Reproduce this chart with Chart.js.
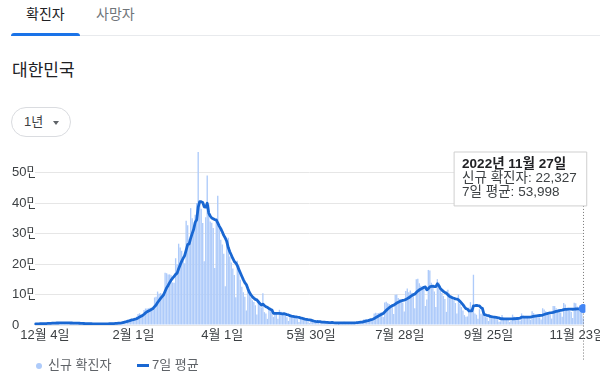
<!DOCTYPE html>
<html><head><meta charset="utf-8">
<script src="https://cdn.jsdelivr.net/npm/chart.js@4.4.0/dist/chart.umd.min.js"></script>
<style>
html,body{margin:0;padding:0;background:#fff;width:613px;height:389px;overflow:hidden;font-family:"Liberation Sans","Noto Sans CJK KR",Arial,sans-serif;}
.abs{position:absolute;white-space:nowrap;}
#tab1{left:26px;top:4px;font-size:14px;line-height:20px;color:#202124;}
#tab2{left:96px;top:4px;font-size:14px;line-height:20px;color:#70757a;}
#tabline{left:11px;top:35px;width:589px;height:1px;background:#e8eaed;}
#tabbar{left:11px;top:33px;width:69px;height:3px;background:#1a73e8;border-radius:3px 3px 0 0;}
#region{left:12px;top:60px;font-size:17px;line-height:22px;color:#202124;}
#pill{left:11px;top:107px;width:60px;height:30px;box-sizing:border-box;border:1px solid #dadce0;border-radius:15px;}
#pilltxt{left:24px;top:112px;font-size:13px;line-height:20px;color:#3c4043;}
#caret{left:53px;top:121px;width:0;height:0;border-left:3.5px solid transparent;border-right:3.5px solid transparent;border-top:4px solid #5f6368;}
#wrap{left:0;top:140px;width:600px;height:225px;}
#ldot{left:35.5px;top:362.7px;width:6px;height:6px;border-radius:50%;background:#aecbfa;}
#ltxt1{left:48px;top:355px;font-size:13px;line-height:20px;color:#5f6368;}
#lline{left:137px;top:364px;width:12px;height:3px;background:#1967d2;}
#ltxt2{left:152px;top:355px;font-size:13px;line-height:20px;color:#5f6368;}
</style></head>
<body>
<div class="abs" id="tab1">확진자</div>
<div class="abs" id="tab2">사망자</div>
<div class="abs" id="tabline"></div>
<div class="abs" id="tabbar"></div>
<div class="abs" id="region">대한민국</div>
<div class="abs" id="pill"></div>
<div class="abs" id="pilltxt">1년</div>
<div class="abs" id="caret"></div>
<div class="abs" id="wrap"><canvas id="c" width="600" height="225"></canvas></div>
<div class="abs" id="ldot"></div>
<div class="abs" id="ltxt1">신규 확진자</div>
<div class="abs" id="lline"></div>
<div class="abs" id="ltxt2">7일 평균</div>
<script>
// Daily new cases (thousands), 2021-11-28 .. 2022-11-27
const dailyK = [
// Nov 28-30
3.3,3.0,5.1,
// Dec
5.3,4.9,5.4,5.1,4.3,4.95,7.2,7.1,7.0,7.0,6.7,5.8,5.6,7.85,7.6,7.4,7.3,6.2,5.3,5.2,7.5,6.9,6.2,5.8,5.4,4.2,3.9,5.4,5.0,4.9,4.4,
// Jan
3.8,3.1,3.0,4.4,4.1,3.7,3.5,3.4,3.0,3.1,4.4,4.2,4.5,4.4,4.2,3.9,4.1,5.8,6.6,6.8,7.0,7.6,7.5,8.6,13.0,14.5,16.1,17.5,17.5,18.3,20.3,
// Feb
20.3,22.9,27.4,36.4,38.7,35.3,36.7,49.6,54.1,53.9,54.9,56.4,54.6,57.2,90.4,93.1,109.8,102.2,104.8,95.4,99.6,171.5,170.0,165.9,166.2,163.6,139.6,139.0,
// Mar
219.2,198.8,266.9,254.3,243.6,210.7,202.7,342.4,327.5,283.0,383.7,350.2,309.8,362.3,400.7,621.3,407.0,381.5,334.7,209.2,354.0,490.9,395.6,339.5,335.6,318.1,187.2,347.6,424.6,320.7,280.3,
// Apr
264.2,234.3,127.2,266.1,286.3,224.8,205.3,185.6,164.5,90.9,210.8,195.4,148.4,125.8,107.9,93.0,47.7,118.5,111.3,90.9,81.1,75.4,64.7,34.4,76.8,68.2,57.5,104.0,42.3,37.8,
// May
20.1,51.1,49.1,42.3,26.7,40.1,38.0,20.6,49.9,43.9,35.9,32.5,29.6,25.4,13.3,35.1,32.8,29.6,25.1,24.0,19.3,10.0,23.9,24.0,18.8,16.6,17.2,12.5,6.1,15.8,13.4,
// Jun
10.1,10.1,12.0,9.8,5.0,4.6,13.4,9.7,7.5,9.3,4.3,3.8,9.4,8.3,7.2,7.4,6.1,5.0,3.8,9.3,10.5,7.5,7.2,6.2,6.2,3.4,9.9,10.5,9.6,10.7,
// Jul
10.1,10.7,6.3,18.1,19.4,18.5,19.3,20.3,20.4,12.7,37.4,40.3,38.9,39.2,41.3,40.3,26.3,73.6,76.4,71.2,68.6,65.4,65.0,35.9,99.3,100.3,88.4,85.3,82.0,73.6,44.7,
// Aug
111.8,119.9,107.9,112.9,105.5,96.0,55.3,149.9,151.8,137.2,128.7,124.6,119.6,62.1,84.1,180.8,178.6,138.8,128.7,110.0,59.0,150.5,139.3,113.4,105.4,95.2,85.3,43.1,115.6,103.9,97.0,
// Sep
87.6,81.6,72.1,37.6,99.8,70.0,59.0,48.0,32.6,27.0,28.2,57.3,75.0,55.0,165.0,37.4,33.7,20.3,51.9,37.0,33.0,30.0,26.0,25.0,13.0,34.0,30.0,27.0,25.0,20.0,
// Oct
18.0,11.0,12.0,33.0,24.0,22.0,21.0,17.0,9.7,13.0,34.0,27.0,25.0,24.0,20.0,14.0,38.0,31.0,27.0,26.0,23.0,21.0,17.0,45.0,39.0,34.0,31.0,27.0,25.0,18.0,55.0,
// Nov
51.0,45.0,42.0,35.0,34.0,21.0,62.0,62.0,55.0,51.0,46.0,41.0,27.0,72.0,67.0,57.0,53.0,47.0,43.0,23.0,73.0,71.5,61.0,54.0,51.2,45.0,22.327
];
// 7-day average (thousands)
const avgK = [
3.71,3.75,3.89,
4.09,4.23,4.42,4.59,4.73,5.01,5.31,5.56,5.86,6.09,6.32,6.54,6.63,6.72,6.79,6.85,6.89,6.82,6.75,6.69,6.64,6.54,6.37,6.16,6.04,5.89,5.70,5.40,5.13,4.94,4.74,
4.51,4.36,4.23,4.09,3.96,3.79,3.66,3.60,3.59,3.60,3.60,3.61,3.73,3.86,3.97,4.10,4.24,4.44,4.79,5.11,5.49,5.97,6.49,7.13,8.16,9.29,10.61,12.11,13.53,15.07,16.74,
17.79,18.99,20.60,23.30,26.33,28.76,31.10,35.29,39.74,43.53,46.17,48.70,51.46,54.39,60.21,65.79,73.77,80.53,87.44,93.27,99.33,110.91,121.90,129.91,139.06,147.46,153.77,159.40,
166.21,170.33,184.76,197.34,208.77,218.93,228.03,245.63,264.01,266.31,284.80,300.03,314.19,336.99,345.31,387.29,405.00,404.69,402.47,388.10,386.91,399.80,367.56,357.91,351.36,348.99,345.84,344.93,335.46,324.76,316.30,
306.10,294.13,285.56,273.91,254.16,240.46,229.74,218.51,208.54,203.36,195.46,182.47,171.56,160.20,149.10,138.89,132.71,119.53,107.51,99.30,92.91,88.27,84.23,82.33,76.37,70.21,65.44,68.71,63.99,60.14,
58.10,54.43,51.70,49.53,38.49,38.17,38.20,38.27,38.10,37.36,36.44,37.27,35.77,33.97,32.93,30.81,29.23,28.33,27.27,26.47,25.60,25.13,23.53,22.27,20.73,19.51,18.54,17.57,17.01,15.86,14.34,
13.10,12.17,11.43,11.04,10.89,9.29,9.29,9.23,8.86,8.47,7.69,7.51,8.20,7.47,7.11,7.10,6.64,6.74,6.74,6.73,7.04,7.09,7.06,7.07,7.24,7.19,7.27,7.27,7.57,8.07,
8.63,9.27,9.69,10.86,12.13,13.40,14.63,16.09,17.47,18.39,21.14,24.13,27.04,29.89,32.89,35.73,37.67,42.84,48.00,52.61,56.81,60.26,63.79,65.16,68.83,72.24,74.70,77.09,79.46,80.69,81.94,
83.73,86.53,89.31,93.26,96.61,99.81,101.33,106.77,111.33,115.51,117.77,120.50,123.87,124.84,115.44,119.59,125.50,126.94,127.53,126.16,125.71,135.20,129.27,119.96,115.19,110.40,106.87,104.60,99.61,94.56,92.21,
89.67,87.73,85.84,85.06,82.80,77.96,72.53,66.87,59.87,53.43,52.09,46.01,46.73,46.16,62.87,63.56,64.51,63.39,62.61,57.19,54.04,34.76,33.13,31.89,30.84,28.29,27.29,26.43,25.71,24.86,
23.86,23.57,20.43,20.86,20.43,20.00,20.14,20.00,19.81,19.96,20.10,20.53,20.96,21.39,21.81,22.43,26.00,25.57,25.57,25.71,25.57,25.71,26.14,27.14,28.29,29.29,30.00,30.57,31.14,31.29,32.71,
34.43,36.00,37.57,38.71,40.00,40.43,41.43,43.00,44.43,45.71,47.29,48.29,49.14,50.57,51.29,51.57,51.86,52.00,52.29,51.71,51.86,52.50,53.07,53.21,53.81,54.10,53.998
];
const xTickLabels = ['12월 4일','2월 1일','4월 1일','5월 30일','7월 28일','9월 25일','11월 23일'];
const yTickLabels = ['0','10만','20만','30만','40만','50만'];
const seriesNames = ['신규 확진자','7일 평균'];

const labels = [], shortLabels = [];
for (let i = 0; i < dailyK.length; i++) {
  const dt = new Date(Date.UTC(2021, 10, 28 + i));
  const y = dt.getUTCFullYear(), m = dt.getUTCMonth() + 1, d = dt.getUTCDate();
  labels.push(y + '년 ' + m + '월 ' + d + '일');
  shortLabels.push(m + '월 ' + d + '일');
}

const FONT = '"Liberation Sans", "Noto Sans CJK KR", Arial, sans-serif';
Chart.defaults.font.family = FONT;
Chart.defaults.font.size = 13;
Chart.defaults.color = '#3c4043';

const TT = (Chart.Tooltip || Chart.registry.getPlugin('tooltip'));
TT.positioners.fixedTop = function(items) {
  if (!items.length) return false;
  const el = items[items.length - 1].element;
  return { x: el.x + 3.5, y: this.chart.chartArea.top, xAlign: 'right', yAlign: 'top' };
};

const guide = {
  id: 'guide',
  afterDatasetsDraw(chart) {
    const act = chart.getActiveElements();
    if (!act.length) return;
    const pt = chart.getDatasetMeta(1).data[act[0].index];
    const tt = chart.tooltip;
    const x = Math.round(pt.x) + 0.5;
    const top = (tt && tt.height) ? tt.y + tt.height : chart.chartArea.top + 55;
    const ctx = chart.ctx;
    ctx.save();
    ctx.strokeStyle = '#777';
    ctx.lineWidth = 1;
    ctx.setLineDash([1, 2]);
    ctx.beginPath();
    ctx.moveTo(x, top);
    ctx.lineTo(x, pt.y - 5);
    ctx.moveTo(x, pt.y + 5);
    ctx.lineTo(x, chart.chartArea.bottom + 35);
    ctx.stroke();
    ctx.restore();
  }
};

const chart = new Chart(document.getElementById('c'), {
  data: {
    labels: labels,
    datasets: [
      { type: 'bar', label: seriesNames[0], data: dailyK, order: 2,
        backgroundColor: '#aecbfa', hoverBackgroundColor: '#aecbfa',
        barPercentage: 0.9, categoryPercentage: 1.0 },
      { type: 'line', label: seriesNames[1], data: avgK, order: 1,
        borderColor: '#1967d2', borderWidth: 2.8, tension: 0, pointRadius: 0,
        borderJoinStyle: 'round', borderCapStyle: 'round',
        pointHoverRadius: 4.5, pointHoverBorderWidth: 0,
        pointHoverBackgroundColor: '#4285f4', pointHoverBorderColor: '#4285f4' }
    ]
  },
  options: {
    responsive: false, animation: false, events: [],
    layout: { padding: { top: 12, left: 12, right: 16, bottom: 18.4 } },
    scales: {
      x: {
        afterFit: (s) => { s.paddingLeft = 0; s.paddingRight = 0; },
        grid: { display: false, drawTicks: false }, border: { display: false },
        ticks: { autoSkip: false, maxRotation: 0, minRotation: 0, padding: 3, color: '#3c4043',
          callback: (v, i) => xTickLabels.includes(shortLabels[i]) ? shortLabels[i] : null }
      },
      y: {
        min: 0, max: 568,
        afterFit: (s) => { s.width = 23; },
        afterBuildTicks: (s) => { s.ticks = s.ticks.filter(t => t.value % 100 === 0); },
        grid: { color: '#e6e6e6', drawTicks: false, lineWidth: 1 }, border: { display: false },
        ticks: { stepSize: 100, crossAlign: 'far', padding: 0, color: '#3c4043',
          callback: (v) => yTickLabels[Math.round(v / 100)] }
      }
    },
    plugins: {
      legend: { display: false },
      tooltip: {
        position: 'fixedTop', displayColors: false,
        backgroundColor: '#fff', borderColor: '#cfcfcf', borderWidth: 1,
        titleColor: '#202124', bodyColor: '#3c4043',
        titleFont: { family: FONT, size: 13.5, weight: 'bold', lineHeight: 1.06 },
        bodyFont: { family: FONT, size: 13.5, lineHeight: 1.06 },
        titleMarginBottom: 0, bodySpacing: 0,
        padding: { top: 5, left: 8, right: 10, bottom: 6 },
        caretSize: 0, caretPadding: 0, cornerRadius: 0,
        callbacks: {
          title: (items) => items[0].label,
          label: (ctx) => ctx.dataset.label + ': ' + Math.round(ctx.raw * 1000).toLocaleString('en-US')
        }
      }
    }
  },
  plugins: [guide]
});

const lastIdx = dailyK.length - 1;
const act = [{ datasetIndex: 0, index: lastIdx }, { datasetIndex: 1, index: lastIdx }];
chart.setActiveElements(act);
chart.tooltip.setActiveElements(act, { x: 0, y: 0 });
chart.update();
</script>
</body></html>
